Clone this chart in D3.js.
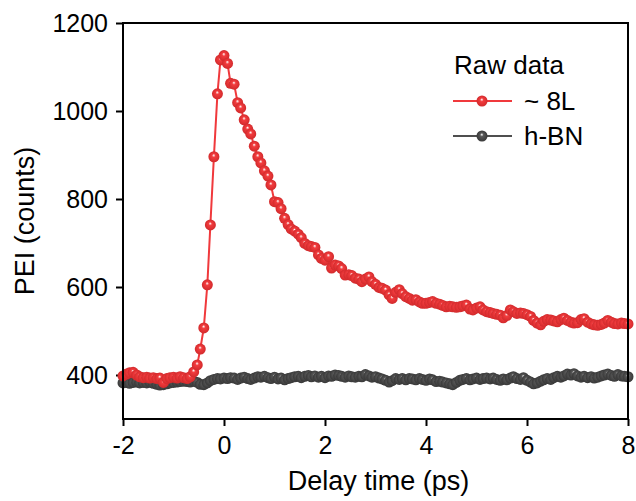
<!DOCTYPE html>
<html>
<head>
<meta charset="utf-8">
<script src="https://cdn.jsdelivr.net/npm/d3@7"></script>
<style>
  body { margin: 0; background: #fff; }
  svg { display: block; }
  text { font-family: "Liberation Sans", Arial, sans-serif; fill: #000; }
</style>
</head>
<body>
<svg id="chart" width="636" height="501"></svg>
<script>
// delay times (ps), one probe every ~1/15 ps
var delay = [
  -2.00,-1.93,-1.87,-1.80,-1.73,-1.67,-1.60,-1.53,-1.47,-1.40,-1.33,-1.27,-1.20,-1.13,-1.07,
  -1.00,-0.93,-0.87,-0.80,-0.73,-0.67,-0.60,-0.53,-0.47,-0.40,-0.33,-0.27,-0.20,-0.13,-0.07,
  0.00,0.07,0.13,0.20,0.27,0.33,0.40,0.47,0.53,0.60,0.67,0.73,0.80,0.87,0.93,
  1.00,1.07,1.13,1.20,1.27,1.33,1.40,1.47,1.53,1.60,1.67,1.73,1.80,1.87,1.93,
  2.00,2.07,2.13,2.20,2.27,2.33,2.40,2.47,2.53,2.60,2.67,2.73,2.80,2.87,2.93,
  3.00,3.07,3.13,3.20,3.27,3.33,3.40,3.47,3.53,3.60,3.67,3.73,3.80,3.87,3.93,
  4.00,4.07,4.13,4.20,4.27,4.33,4.40,4.47,4.53,4.60,4.67,4.73,4.80,4.87,4.93,
  5.00,5.07,5.13,5.20,5.27,5.33,5.40,5.47,5.53,5.60,5.67,5.73,5.80,5.87,5.93,
  6.00,6.07,6.13,6.20,6.27,6.33,6.40,6.47,6.53,6.60,6.67,6.73,6.80,6.87,6.93,
  7.00,7.07,7.13,7.20,7.27,7.33,7.40,7.47,7.53,7.60,7.67,7.73,7.80,7.87,7.93,
  8.00
];

// ~8L sample
var pei8L = [
  398,402,405,406,400,396,394,395,393,394,392,393,383,392,394,
  395,393,396,394,392,396,407,423,459,507,605,741,896,1039,1116,
  1126,1108,1063,1061,1019,1007,980,959,948,920,896,882,864,852,832,
  794,792,778,756,742,732,727,720,712,699,694,692,690,673,665,
  661,669,643,650,648,642,627,628,626,620,618,612,618,623,612,
  606,599,597,593,582,574,588,594,585,578,574,570,571,566,563,
  563,565,567,563,561,558,555,556,555,554,555,557,559,550,548,
  552,555,548,544,542,540,538,536,530,535,548,544,540,541,540,
  537,533,524,518,514,522,526,525,523,521,526,529,524,520,518,
  519,526,528,520,516,514,513,515,518,524,520,517,516,518,517,
  516
];

// h-BN substrate
var peiBN = [
  382,383,381,383,384,382,383,382,384,381,379,377,378,380,382,
  383,384,385,386,385,384,386,383,379,378,382,387,390,392,391,
  393,392,394,393,390,393,395,392,390,393,396,395,397,394,392,
  395,391,393,389,392,394,396,397,394,397,399,396,398,395,397,
  394,398,397,400,399,397,395,398,396,395,397,396,401,398,395,
  396,393,391,388,384,387,392,390,392,389,392,391,389,392,390,
  388,391,389,385,386,384,382,380,378,383,388,390,392,389,391,
  393,390,392,393,391,393,390,388,391,389,393,396,392,390,394,
  388,384,380,382,386,389,392,390,394,397,395,398,402,400,403,
  398,395,397,394,396,393,395,398,400,402,399,397,401,398,397,
  396
];

var xTicks = [-2, 0, 2, 4, 6, 8];
var yTicks = [400, 600, 800, 1000, 1200];
var seriesNames = ["~ 8L", "h-BN"];

var series = [
  {name: seriesNames[0], vals: pei8L, color: "#f0393c", grad: "gRed", hi: "#fbb9b9", mid: "#f23c3e", lo: "#d22a2c"},
  {name: seriesNames[1], vals: peiBN, color: "#4f4f4f", grad: "gGray", hi: "#c4c4c4", mid: "#575757", lo: "#383838"}
];

var svg = d3.select("#chart");
var L = 123, R = 628, T = 23, B = 419;

var x = d3.scaleLinear().domain([-2, 8]).range([L, R]);
var y = d3.scaleLinear().domain([300, 1200]).range([B, T]);

// shiny ball markers
var defs = svg.append("defs");
series.forEach(function (s) {
  var g = defs.append("radialGradient").attr("id", s.grad)
    .attr("cx", "50%").attr("cy", "50%").attr("r", "50%")
    .attr("fx", "48%").attr("fy", "35%");
  g.append("stop").attr("offset", "0%").attr("stop-color", "#fff");
  g.append("stop").attr("offset", "12%").attr("stop-color", s.hi);
  g.append("stop").attr("offset", "32%").attr("stop-color", s.mid);
  g.append("stop").attr("offset", "100%").attr("stop-color", s.lo);
});

// axes
var fmt = function (d) { return String(d); };
var xAxis = d3.axisBottom(x).tickValues(xTicks).tickSize(7).tickPadding(10).tickFormat(fmt);
var yAxis = d3.axisLeft(y).tickValues(yTicks).tickSize(7).tickPadding(8).tickFormat(fmt);

var gx = svg.append("g").attr("transform", "translate(0," + B + ")").call(xAxis);
var gy = svg.append("g").attr("transform", "translate(" + L + ",0)").call(yAxis);
[gx, gy].forEach(function (g) {
  g.select(".domain").remove();
  g.selectAll(".tick line").attr("stroke", "#000").attr("stroke-width", 2);
  g.selectAll(".tick text").style("font-size", "25px")
    .style("font-family", "'Liberation Sans', Arial, sans-serif").attr("fill", "#000");
});
gx.selectAll(".tick text").attr("dy", "0.71em");

// lines + markers, substrate first so the sample sits on top
var line = d3.line()
  .x(function (d) { return x(d[0]); })
  .y(function (d) { return y(d[1]); });

series.slice().reverse().forEach(function (s) {
  var pts = delay.map(function (t, i) { return [t, s.vals[i]]; });
  var g = svg.append("g");
  g.append("path").datum(pts)
    .attr("fill", "none").attr("stroke", s.color).attr("stroke-width", 2)
    .attr("d", line);
  g.selectAll("circle").data(pts).enter().append("circle")
    .attr("cx", function (d) { return x(d[0]); })
    .attr("cy", function (d) { return y(d[1]); })
    .attr("r", 5.5)
    .attr("fill", "url(#" + s.grad + ")");
});

// frame
svg.append("rect")
  .attr("x", L).attr("y", T).attr("width", R - L).attr("height", B - T)
  .attr("fill", "none").attr("stroke", "#000").attr("stroke-width", 2);

// axis titles
svg.append("text")
  .attr("x", (L + R) / 2 + 3).attr("y", 490)
  .attr("text-anchor", "middle").style("font-size", "27px")
  .text("Delay time (ps)");
svg.append("text")
  .attr("transform", "translate(34," + ((T + B) / 2) + ") rotate(-90)")
  .attr("text-anchor", "middle").style("font-size", "27px")
  .text("PEI (counts)");

// legend
var leg = svg.append("g");
leg.append("text").attr("x", 454).attr("y", 74).style("font-size", "26px").text("Raw data");
series.forEach(function (s, i) {
  var ly = 101 + i * 35;
  leg.append("line").attr("x1", 453).attr("x2", 512).attr("y1", ly).attr("y2", ly)
    .attr("stroke", s.color).attr("stroke-width", 2);
  leg.append("circle").attr("cx", 482).attr("cy", ly).attr("r", 5.5)
    .attr("fill", "url(#" + s.grad + ")");
  leg.append("text").attr("x", 524).attr("y", ly + 9).style("font-size", "26px").text(s.name);
});
</script>
</body>
</html>
